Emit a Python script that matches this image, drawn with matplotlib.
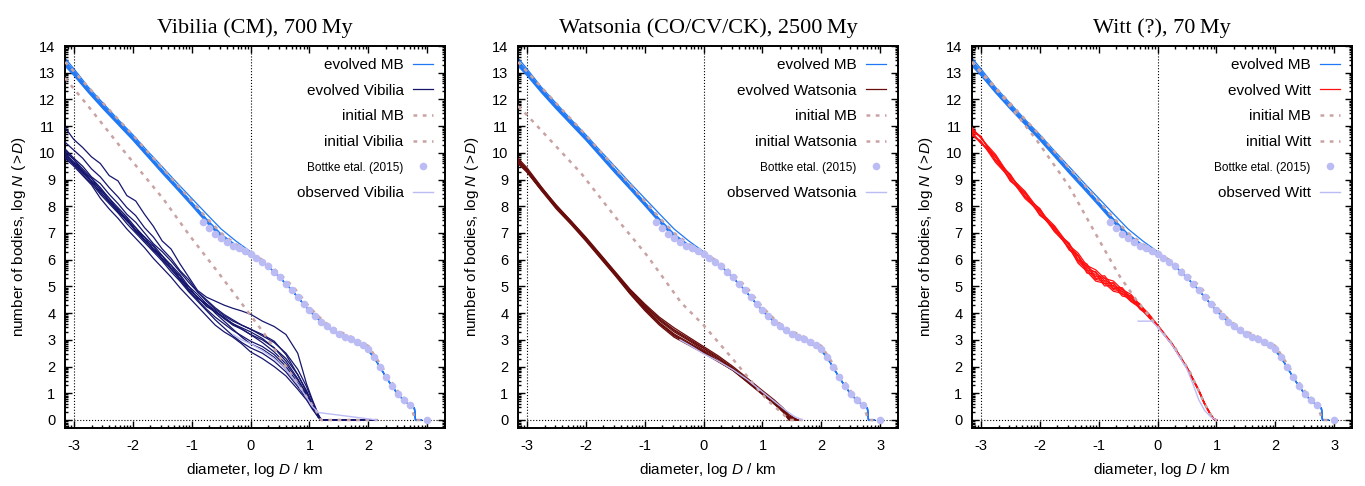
import numpy as np
import matplotlib
matplotlib.use("Agg")
import matplotlib.pyplot as plt
from matplotlib.ticker import FixedLocator

plt.rcParams['font.family'] = ['Liberation Sans', 'DejaVu Sans']
plt.rcParams['mathtext.fontset'] = 'custom'
plt.rcParams['mathtext.rm'] = 'Liberation Sans'
plt.rcParams['mathtext.it'] = 'Liberation Sans:italic'

# ---------------- data (log D / km, log N(>D)) ----------------

# evolved main belt, several runs (head part, up to log D = 0)
MB_X = [-3.15, -3.0, -2.75, -2.5, -2.25, -2.0, -1.75, -1.5, -1.25, -1.0, -0.75, -0.5, -0.25, 0.0]
MB_RUNS = [
    [13.55, 13.15, 12.45, 11.85, 11.25, 10.68, 10.07, 9.48, 8.88, 8.3, 7.72, 7.15, 6.7, 6.3],
    [13.3, 12.95, 12.28, 11.68, 11.1, 10.52, 9.9, 9.28, 8.68, 8.07, 7.45, 6.88, 6.47, 6.18],
    [13.4, 13.02, 12.35, 11.75, 11.16, 10.58, 9.96, 9.34, 8.74, 8.13, 7.5, 6.93, 6.52, 6.22],
    [13.25, 12.9, 12.25, 11.64, 11.06, 10.48, 9.86, 9.24, 8.64, 8.03, 7.4, 6.84, 6.43, 6.16],
    [13.45, 13.08, 12.38, 11.78, 11.19, 10.61, 9.99, 9.37, 8.77, 8.16, 7.53, 6.96, 6.55, 6.24],
    [13.35, 12.98, 12.3, 11.7, 11.12, 10.54, 9.92, 9.3, 8.7, 8.09, 7.47, 6.9, 6.49, 6.2],
]
# all MB runs share the large-body end
MB_TAIL_X = [0.1, 0.2, 0.4, 0.6, 0.8, 1.0, 1.2, 1.4, 1.6, 1.8, 2.0, 2.1, 2.2, 2.3, 2.4, 2.5, 2.6, 2.7, 2.78, 2.8, 2.9]
MB_TAIL_Y = [6.08, 5.92, 5.55, 5.1, 4.6, 4.08, 3.66, 3.33, 3.1, 2.9, 2.6, 2.33, 1.97, 1.6, 1.27, 0.96, 0.74, 0.55, 0.45, 0.0, 0.0]

# initial main belt
MB0_X = [-3.15, -3.0, -2.75, -2.5, -2.25, -2.0, -1.75, -1.5, -1.25, -1.0, -0.75, -0.5, -0.25, 0.0,
         0.25, 0.5, 0.75, 1.0, 1.25, 1.5, 1.75, 2.0, 2.25, 2.5, 2.7, 2.8, 3.0]
MB0_Y = [13.4, 13.05, 12.45, 11.85, 11.26, 10.67, 10.05, 9.43, 8.82, 8.2, 7.57, 7.0, 6.58, 6.27,
         5.92, 5.47, 4.92, 4.22, 3.67, 3.32, 3.07, 2.77, 1.92, 1.07, 0.6, 0.0, 0.0]

# Bottke et al. (2015) observed main belt
BOT_X = [-0.8, -0.7, -0.6, -0.5, -0.4, -0.3, -0.2, -0.1, 0.0, 0.1, 0.2, 0.3, 0.4, 0.5, 0.6, 0.7,
         0.8, 0.9, 1.0, 1.1, 1.2, 1.3, 1.4, 1.5, 1.6, 1.7, 1.8, 1.9, 2.0, 2.1, 2.2, 2.3, 2.4,
         2.5, 2.6, 2.7, 3.0]
BOT_Y = [7.42, 7.18, 6.98, 6.8, 6.65, 6.52, 6.42, 6.32, 6.22, 6.08, 5.92, 5.75, 5.55, 5.35, 5.1, 4.85,
         4.6, 4.35, 4.1, 3.88, 3.68, 3.5, 3.35, 3.22, 3.12, 3.02, 2.92, 2.8, 2.65, 2.35, 1.98, 1.6, 1.28,
         0.98, 0.75, 0.55, 0.0]

# Vibilia
VIB_X = [-3.15, -3.0, -2.85, -2.7, -2.55, -2.4, -2.25, -2.1, -1.95, -1.8, -1.65, -1.5, -1.35, -1.2,
         -1.05, -0.9, -0.75, -0.6, -0.45, -0.3, -0.15, 0.0, 0.2, 0.4, 0.6, 0.8, 0.95, 1.05, 1.15, 1.2, 2.15]
VIB_RUNS = [
    [10.95, 10.5, 10.2, 9.85, 9.6, 9.15, 8.95, 8.4, 8.2, 7.7, 7.25, 6.7, 6.4, 5.85, 5.35, 4.85, 4.6,
     4.45, 4.3, 4.18, 4.08, 3.96, 3.7, 3.5, 3.2, 2.5, 1.35, 0.75, 0.2, 0.0, 0.0],
    [10.4, 10.1, 9.8, 9.4, 9.1, 8.7, 8.35, 7.95, 7.65, 7.2, 6.85, 6.4, 6.05, 5.6, 5.25, 4.8, 4.45,
     4.15, 3.9, 3.7, 3.55, 3.4, 3.2, 2.95, 2.45, 1.7, 1.05, 0.55, 0.15, 0.0, 0.0],
    [10.15, 9.8, 9.5, 9.1, 8.85, 8.45, 8.1, 7.7, 7.4, 7.0, 6.6, 6.3, 5.95, 5.55, 5.15, 4.8, 4.5,
     4.2, 3.95, 3.75, 3.55, 3.4, 3.15, 2.9, 2.5, 1.9, 1.25, 0.7, 0.2, 0.0, 0.0],
    [10.05, 9.75, 9.3, 9.05, 8.6, 8.3, 7.85, 7.55, 7.1, 6.85, 6.4, 6.15, 5.7, 5.4, 4.9, 4.6, 4.25,
     4.05, 3.85, 3.6, 3.45, 3.3, 3.05, 2.7, 2.2, 1.55, 0.95, 0.5, 0.1, 0.0, 0.0],
    [9.95, 9.6, 9.3, 8.9, 8.55, 8.15, 7.8, 7.45, 7.1, 6.7, 6.4, 6.0, 5.65, 5.25, 4.85, 4.5, 4.15,
     3.85, 3.6, 3.35, 3.15, 2.95, 2.75, 2.45, 2.0, 1.4, 0.9, 0.5, 0.15, 0.0, 0.0],
    [9.85, 9.55, 9.2, 8.85, 8.45, 8.1, 7.75, 7.35, 7.0, 6.65, 6.3, 5.95, 5.55, 5.2, 4.8, 4.45, 4.1,
     3.75, 3.45, 3.15, 2.9, 2.7, 2.5, 2.2, 1.8, 1.25, 0.8, 0.45, 0.1, 0.0, 0.0],
    [10.0, 9.65, 9.35, 8.95, 8.65, 8.2, 7.9, 7.45, 7.2, 6.75, 6.5, 6.05, 5.8, 5.3, 5.0, 4.55, 4.35,
     4.0, 3.7, 3.4, 3.1, 2.85, 2.65, 2.35, 1.9, 1.35, 0.85, 0.45, 0.15, 0.0, 0.0],
    [9.9, 9.6, 9.25, 8.95, 8.5, 8.2, 7.8, 7.5, 7.05, 6.75, 6.35, 6.05, 5.65, 5.3, 4.9, 4.6, 4.3,
     4.05, 3.8, 3.55, 3.4, 3.2, 3.0, 2.7, 2.3, 1.7, 1.1, 0.6, 0.15, 0.0, 0.0],
    [10.1, 9.75, 9.4, 9.05, 8.7, 8.3, 7.95, 7.6, 7.2, 6.85, 6.55, 6.15, 5.8, 5.45, 5.0, 4.7, 4.35,
     4.1, 3.8, 3.6, 3.4, 3.2, 2.9, 2.55, 2.1, 1.5, 1.0, 0.55, 0.15, 0.0, 0.0],
    [9.8, 9.5, 9.15, 8.8, 8.3, 7.9, 7.55, 7.15, 6.8, 6.45, 6.05, 5.7, 5.35, 4.95, 4.6, 4.25, 3.9,
     3.55, 3.3, 3.1, 2.85, 2.55, 2.3, 2.0, 1.65, 1.15, 0.75, 0.4, 0.1, 0.0, 0.0],
]
VIB0_X = [-3.15, -2.76, -2.2, -1.48, -1.03, -0.57, -0.12, 0.22, 0.67, 1.13, 1.2, 2.15]
VIB0_Y = [12.8, 11.76, 10.2, 8.27, 6.89, 5.58, 4.27, 3.27, 1.78, 0.28, 0.0, 0.0]
VIB_OBS_X = [-0.3, -0.15, 0.0, 0.2, 0.4, 0.6, 0.8, 0.95, 1.05, 1.15, 2.15]
VIB_OBS_Y = [3.2, 3.0, 2.85, 2.6, 2.3, 1.9, 1.35, 0.85, 0.5, 0.28, 0.0]

# Watsonia
WAT_X = [-3.15, -3.0, -2.75, -2.5, -2.25, -2.0, -1.75, -1.5, -1.25, -1.0, -0.75, -0.5, -0.25, 0.0,
         0.25, 0.5, 0.75, 1.0, 1.2, 1.35, 1.45, 1.6]
WAT_RUNS = [
    [9.75, 9.4, 8.7, 8.05, 7.45, 6.85, 6.2, 5.55, 4.9, 4.35, 3.85, 3.45, 3.1, 2.75, 2.4, 2.0, 1.55, 1.1, 0.75, 0.45, 0.2, 0.0],
    [9.65, 9.3, 8.6, 7.95, 7.35, 6.75, 6.1, 5.45, 4.75, 4.15, 3.6, 3.15, 2.85, 2.55, 2.2, 1.85, 1.4, 0.95, 0.6, 0.3, 0.0, 0.0],
    [9.7, 9.38, 8.68, 8.0, 7.42, 6.8, 6.15, 5.5, 4.85, 4.28, 3.75, 3.35, 3.0, 2.68, 2.3, 1.92, 1.48, 1.02, 0.68, 0.38, 0.12, 0.0],
    [9.6, 9.28, 8.58, 7.9, 7.32, 6.7, 6.05, 5.4, 4.72, 4.1, 3.55, 3.1, 2.8, 2.5, 2.18, 1.86, 1.42, 0.98, 0.62, 0.32, 0.08, 0.0],
    [9.8, 9.45, 8.72, 8.02, 7.45, 6.82, 6.18, 5.52, 4.88, 4.3, 3.8, 3.38, 3.05, 2.7, 2.35, 1.95, 1.5, 1.05, 0.7, 0.42, 0.15, 0.0],
    [9.68, 9.35, 8.62, 7.96, 7.38, 6.76, 6.1, 5.46, 4.78, 4.2, 3.65, 3.22, 2.9, 2.58, 2.22, 1.88, 1.44, 0.98, 0.64, 0.34, 0.05, 0.0],
    [9.72, 9.34, 8.66, 7.99, 7.41, 6.79, 6.14, 5.49, 4.83, 4.25, 3.72, 3.3, 2.97, 2.62, 2.28, 1.9, 1.46, 1.0, 0.66, 0.36, 0.1, 0.0],
    [9.62, 9.3, 8.6, 7.94, 7.36, 6.74, 6.08, 5.43, 4.76, 4.16, 3.62, 3.18, 2.86, 2.52, 2.2, 1.87, 1.43, 0.97, 0.6, 0.3, 0.0, 0.0],
]
WAT0_X = [-3.15, -3.0, -2.08, -1.51, -0.95, -0.38, 0.0, 0.5, 1.07, 1.46, 1.68]
WAT0_Y = [11.75, 11.42, 9.24, 7.63, 6.13, 4.39, 3.55, 2.27, 0.77, 0.0, 0.0]
WAT_OBS_X = [-0.4, -0.2, 0.0, 0.25, 0.5, 0.75, 1.0, 1.2, 1.4, 1.55, 1.68]
WAT_OBS_Y = [3.0, 2.75, 2.48, 2.2, 1.88, 1.5, 1.05, 0.7, 0.35, 0.12, 0.0]

# Witt
WIT_X = [-3.15, -3.0, -2.75, -2.5, -2.25, -2.0, -1.75, -1.5, -1.35, -1.2, -1.05, -0.9, -0.75, -0.6,
         -0.45, -0.3, -0.15, 0.0, 0.25, 0.5, 0.7, 0.8, 0.9, 0.95, 1.0]
WIT_RUNS = [
    [10.95, 10.55, 9.94, 9.1, 8.56, 7.82, 7.27, 6.53, 6.25, 5.78, 5.62, 5.3, 5.2, 4.88, 4.7, 4.31, 3.98, 3.56, 2.85, 1.97, 1.12, 0.62, 0.22, 0.06, 0.0],
    [10.65, 10.45, 9.64, 9.05, 8.29, 7.8, 7.05, 6.47, 5.87, 5.56, 5.2, 5.12, 4.82, 4.74, 4.43, 4.2, 3.84, 3.5, 2.8, 1.93, 1.08, 0.58, 0.18, 0.04, 0.0],
    [10.85, 10.62, 9.72, 9.2, 8.36, 7.92, 7.08, 6.62, 6.0, 5.84, 5.36, 5.4, 4.98, 4.95, 4.55, 4.35, 3.9, 3.55, 2.84, 1.96, 1.11, 0.61, 0.21, 0.05, 0.0],
    [10.72, 10.36, 9.86, 8.94, 8.5, 7.66, 7.24, 6.36, 6.13, 5.5, 5.46, 5.02, 5.04, 4.64, 4.57, 4.15, 3.9, 3.51, 2.81, 1.94, 1.09, 0.59, 0.19, 0.05, 0.0],
    [10.9, 10.58, 9.84, 9.14, 8.46, 7.86, 7.16, 6.56, 6.15, 5.7, 5.52, 5.22, 5.1, 4.8, 4.63, 4.27, 3.94, 3.54, 2.83, 1.95, 1.1, 0.6, 0.2, 0.05, 0.0],
    [10.68, 10.4, 9.74, 9.0, 8.38, 7.72, 7.12, 6.42, 5.93, 5.64, 5.26, 5.2, 4.88, 4.82, 4.45, 4.25, 3.86, 3.52, 2.82, 1.95, 1.1, 0.6, 0.2, 0.05, 0.0],
    [10.8, 10.6, 9.7, 9.16, 8.34, 7.9, 7.06, 6.58, 5.97, 5.76, 5.3, 5.32, 4.92, 4.9, 4.49, 4.31, 3.88, 3.53, 2.82, 1.96, 1.12, 0.6, 0.22, 0.06, 0.0],
    [10.78, 10.38, 9.88, 8.98, 8.52, 7.7, 7.22, 6.4, 6.17, 5.6, 5.55, 5.1, 5.14, 4.7, 4.65, 4.19, 3.94, 3.53, 2.81, 1.94, 1.09, 0.59, 0.19, 0.04, 0.0],
]
WIT0_X = [-3.15, -3.0, -2.63, -2.06, -1.5, -0.93, -0.64, -0.36, 0.0, 0.27, 0.55, 0.8, 0.95, 1.0]
WIT0_Y = [13.4, 13.0, 12.1, 10.5, 8.74, 6.49, 5.37, 4.49, 3.5, 2.8, 1.8, 0.6, 0.0, 0.0]
WIT_OBS_X = [-0.33, -0.1, 0.0, 0.25, 0.5, 0.6, 0.7, 0.8, 0.9, 1.0]
WIT_OBS_Y = [3.7, 3.7, 3.48, 2.8, 1.9, 1.35, 0.75, 0.35, 0.12, 0.0]

MB_COLOR = '#1f78f5'
INIT_COLOR = '#c9a3a3'
OBS_COLOR = '#bcbcf5'


def draw_panel(ax, title, name, color, fam_x, fam_runs, fam0_x, fam0_y, obs_x, obs_y):
    for ln in [-3, 0]:
        ax.axvline(ln, color='k', ls=':', lw=0.8, zorder=1)
    ax.axhline(0, color='k', ls=':', lw=0.8, zorder=1)

    for i, y in enumerate(MB_RUNS):
        ax.plot(MB_X + MB_TAIL_X, y + MB_TAIL_Y, color=MB_COLOR, lw=0.9,
                label='evolved MB' if i == 0 else None, zorder=2)
    for i, y in enumerate(fam_runs):
        ax.plot(fam_x, y, color=color, lw=0.9,
                label='evolved ' + name if i == 0 else None, zorder=3)
    ax.plot(MB0_X, MB0_Y, color=INIT_COLOR, lw=1.8, dashes=(1.5, 2.2), label='initial MB', zorder=4)
    ax.plot(fam0_x, fam0_y, color=INIT_COLOR, lw=1.8, dashes=(1.5, 2.2), label='initial ' + name, zorder=4)
    ax.plot(BOT_X, BOT_Y, 'o', color=OBS_COLOR, ms=5.5, mew=0, label='Bottke etal. (2015)', zorder=5)
    ax.plot(obs_x, obs_y, color=OBS_COLOR, lw=1.0, label='observed ' + name, zorder=6)

    ax.set_xlim(-3.15, 3.3)
    ax.set_ylim(-0.3, 14)
    ax.set_xticks(range(-3, 4))
    ax.set_yticks(range(0, 15))
    ax.set_xticklabels([str(v) for v in range(-3, 4)])
    minor = [k + np.log10(m) for k in range(-4, 14) for m in range(2, 10)]
    ax.xaxis.set_minor_locator(FixedLocator(minor))
    ax.yaxis.set_minor_locator(FixedLocator(minor))
    ax.tick_params(which='both', direction='in', top=True, right=True, width=1)
    ax.tick_params(which='major', length=5)
    ax.tick_params(which='minor', length=2.5)
    ax.tick_params(axis='x', labelsize=10.5, pad=8)
    ax.tick_params(axis='y', labelsize=10.5, pad=7)
    for s in ax.spines.values():
        s.set_linewidth(1.4)

    ax.set_xlabel('diameter, log $\\it{D}$ / km', fontsize=11, labelpad=6)
    ax.set_ylabel('number of bodies, log $\\it{N}$ ($>\\!\\it{D}$)', fontsize=11, labelpad=8)
    ax.set_title(title, fontsize=16, family='Liberation Serif', pad=9)

    leg = ax.legend(loc='upper right', frameon=False, markerfirst=False, fontsize=11,
                    handlelength=1.3, handletextpad=0.6, numpoints=1, borderaxespad=0.4,
                    labelspacing=0.76)
    leg.get_texts()[4].set_fontsize(8.5)


fig = plt.figure(figsize=(13.65, 4.86), dpi=100)
w, h, b = 380 / 1365, 382 / 486, 58 / 486
axes = [fig.add_axes([l / 1365, b, w, h]) for l in (65, 518, 972)]

draw_panel(axes[0], 'Vibilia (CM), 700\u2009My', 'Vibilia', '#16166e',
           VIB_X, VIB_RUNS, VIB0_X, VIB0_Y, VIB_OBS_X, VIB_OBS_Y)
draw_panel(axes[1], 'Watsonia (CO/CV/CK), 2500\u2009My', 'Watsonia', '#6a0c0c',
           WAT_X, WAT_RUNS, WAT0_X, WAT0_Y, WAT_OBS_X, WAT_OBS_Y)
draw_panel(axes[2], 'Witt (?), 70\u2009My', 'Witt', '#ff1010',
           WIT_X, WIT_RUNS, WIT0_X, WIT0_Y, WIT_OBS_X, WIT_OBS_Y)

fig.savefig('out.png', dpi=100)
